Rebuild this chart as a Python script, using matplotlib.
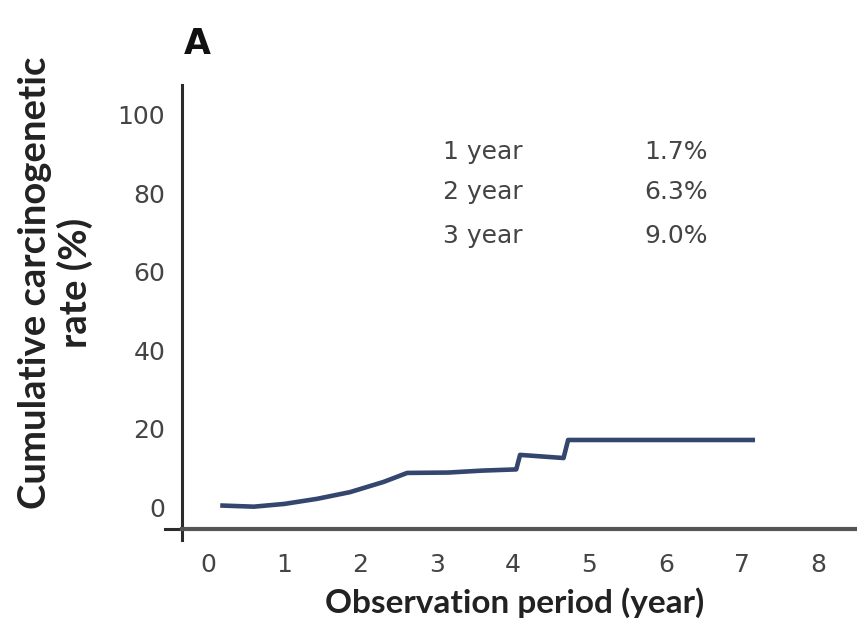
import matplotlib.pyplot as plt
from matplotlib.lines import Line2D

# cumulative carcinogenesis curve (year, %)
years = [0.16, 0.6, 1.0, 1.43, 1.86, 2.30, 2.61, 3.15, 3.60, 4.04, 4.09, 4.66, 4.72, 7.17]
rates = [0.4, 0.1, 0.8, 2.1, 3.8, 6.4, 8.7, 8.8, 9.3, 9.6, 13.3, 12.5, 17.1, 17.1]

summary_labels = ["1 year", "2 year", "3 year"]
summary_values = ["1.7%", "6.3%", "9.0%"]
summary_rows_y = [90.5, 80.3, 69.0]

x_ticks = [0, 1, 2, 3, 4, 5, 6, 7, 8]
y_ticks = [0, 20, 40, 60, 80, 100]

fig = plt.figure(figsize=(8.57, 6.28), dpi=100)
ax = fig.add_axes([0.2124, 0.1576, 0.787, 0.7071])

ax.plot(years, rates, color="#34456e", lw=3.3, solid_capstyle="butt")

ax.set_xlim(-0.341, 8.5)
ax.set_ylim(-5.6, 107.6)
ax.set_xticks(x_ticks)
ax.set_yticks(y_ticks)
ax.tick_params(length=0, labelsize=18, labelcolor="#444444")
ax.tick_params(axis="x", pad=17)
ax.tick_params(axis="y", pad=12)
for lbl in ax.get_xticklabels() + ax.get_yticklabels():
    lbl.set_family("DejaVu Sans")

for side in ("top", "right"):
    ax.spines[side].set_visible(False)
ax.spines["left"].set_linewidth(2.2)
ax.spines["left"].set_color("#2b2b2b")
ax.spines["bottom"].set_linewidth(3.0)
ax.spines["bottom"].set_color("#555555")

# small crossing stubs at the origin
ax.add_line(Line2D([-0.025, 0], [0, 0], transform=ax.transAxes, color="#2b2b2b",
                   lw=2.2, clip_on=False))
ax.add_line(Line2D([0, 0], [-0.025, 0], transform=ax.transAxes, color="#2b2b2b",
                   lw=2.2, clip_on=False))

for lab, val, y in zip(summary_labels, summary_values, summary_rows_y):
    ax.text(3.08, y, lab, fontsize=18, family="DejaVu Sans", color="#444444",
            va="center", ha="left")
    ax.text(6.55, y, val, fontsize=18, family="DejaVu Sans", color="#444444",
            va="center", ha="right")

fig.text(0.065, 0.55, "Cumulative carcinogenetic\nrate (%)", rotation=90,
         fontsize=27.5, family="Lato", fontweight="bold", color="#222222",
         ha="center", va="center", linespacing=1.15)
fig.text(0.601, 0.04, "Observation period (year)", fontsize=24, family="Lato",
         fontweight="bold", color="#222222", ha="center", va="center")
fig.text(0.214, 0.93, "A", fontsize=25, family="DejaVu Sans", fontweight="bold",
         color="#111111", ha="left", va="center")

fig.savefig("out.png", dpi=100, facecolor="white")
